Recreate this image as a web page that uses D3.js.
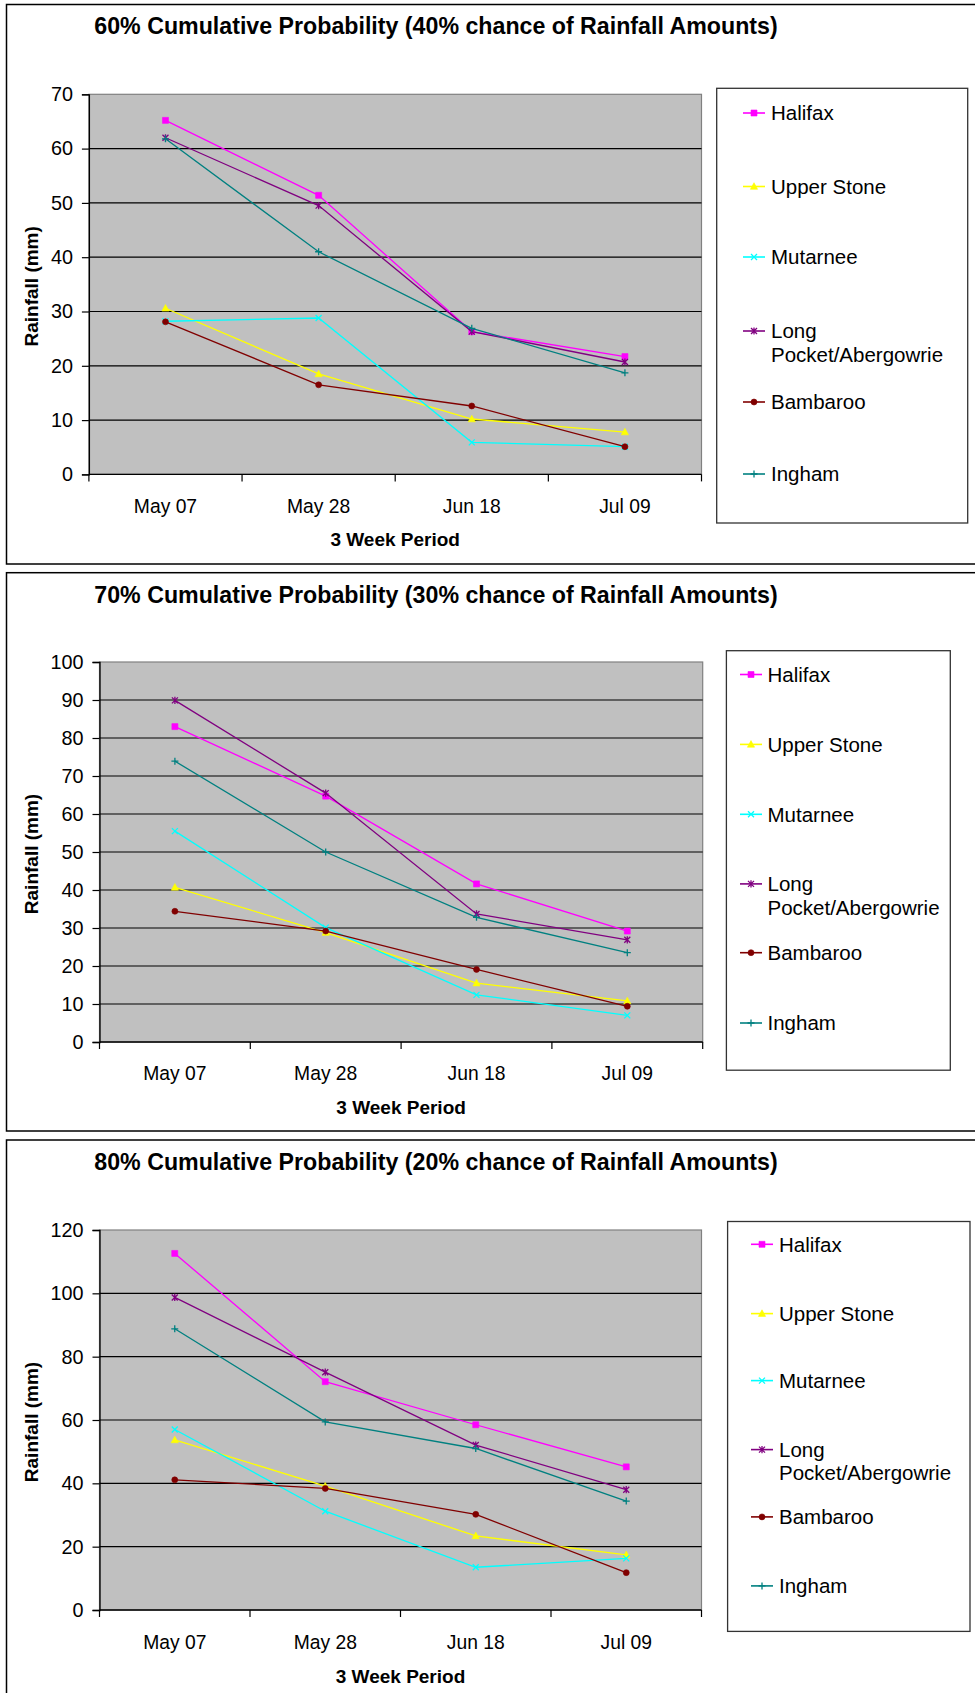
<!DOCTYPE html>
<html>
<head>
<meta charset="utf-8">
<script src="https://cdn.jsdelivr.net/npm/d3@7"></script>
<style>
  html, body { margin: 0; padding: 0; background: #fff; }
  svg { display: block; }
  text { font-family: "Liberation Sans", Arial, Helvetica, sans-serif; fill: #000; }
</style>
</head>
<body>
<svg id="chart" width="975" height="1693"></svg>
<script>
// ---- data ----
const periods = ["May 07", "May 28", "Jun 18", "Jul 09"];
const stations = ["Halifax", "Upper Stone", "Mutarnee", "Long Pocket/Abergowrie", "Bambaroo", "Ingham"];
const legendLabels = [["Halifax"], ["Upper Stone"], ["Mutarnee"], ["Long", "Pocket/Abergowrie"], ["Bambaroo"], ["Ingham"]];

const titles = [
  "60% Cumulative Probability (40% chance of Rainfall Amounts)",
  "70% Cumulative Probability (30% chance of Rainfall Amounts)",
  "80% Cumulative Probability (20% chance of Rainfall Amounts)"
];
const xTitle = "3 Week Period";
const yTitle = "Rainfall (mm)";

// rainfall (mm), rows follow the station order above
const rain60 = [
  [65.2, 51.4, 26.3, 21.7],
  [30.6, 18.5, 10.2, 7.8],
  [28.2, 28.8, 5.9, 5.1],
  [62.0, 49.5, 26.3, 20.7],
  [28.1, 16.5, 12.6, 5.1],
  [61.8, 41.0, 26.9, 18.7]
];
const rain70 = [
  [83.0, 64.7, 41.6, 29.2],
  [40.7, 28.8, 15.5, 10.8],
  [55.5, 30.1, 12.4, 7.0],
  [89.9, 65.5, 33.7, 26.9],
  [34.4, 29.2, 19.1, 9.4],
  [73.9, 50.0, 32.8, 23.5]
];
const rain80 = [
  [112.6, 72.1, 58.5, 45.2],
  [53.7, 39.1, 23.4, 17.4],
  [57.0, 31.2, 13.5, 16.3],
  [98.7, 75.1, 52.1, 38.0],
  [41.1, 38.4, 30.2, 11.8],
  [88.8, 59.4, 51.0, 34.4]
];

const yTicks60 = [0, 10, 20, 30, 40, 50, 60, 70];
const yTicks70 = [0, 10, 20, 30, 40, 50, 60, 70, 80, 90, 100];
const yTicks80 = [0, 20, 40, 60, 80, 100, 120];

// ---- styles ----
const stationColors = ["#FF00FF", "#FFFF00", "#00FFFF", "#800080", "#800000", "#008080"];
const stationMarkers = ["square", "triangle", "times", "star", "circle", "plus"];

const FONT_TICK = 19.3, FONT_YTICK = 19.8, FONT_LEG = 20.5, FONT_AXT = 19, FONT_TITLE = 23.2;

// ---- panel layout ----
const panels = [
  {
    title: titles[0], values: rain60, ticks: yTicks60,
    frame: [4.5, 564], plot: { l: 88.9, r: 701.5, t: 94.3, b: 474.4 },
    titleY: 26, tickY: 506, xTitleY: 539,
    legend: { l: 716.7, r: 967.7, t: 88.3, b: 523, lineL: 743, lineR: 765, textX: 771,
              rows: [113, 186.5, 257, 331, 402, 474] }
  },
  {
    title: titles[1], values: rain70, ticks: yTicks70,
    frame: [572.7, 1131], plot: { l: 99.5, r: 702.7, t: 662, b: 1042 },
    titleY: 594.5, tickY: 1073.4, xTitleY: 1107,
    legend: { l: 726.4, r: 950.3, t: 650.7, b: 1070.2, lineL: 740, lineR: 762, textX: 767.5,
              rows: [674.5, 744.4, 814.3, 883.9, 952.7, 1023] }
  },
  {
    title: titles[2], values: rain80, ticks: yTicks80,
    frame: [1140, 1720], plot: { l: 99.5, r: 701.5, t: 1230, b: 1610 },
    titleY: 1162, tickY: 1642, xTitleY: 1676,
    legend: { l: 727.6, r: 970, t: 1221.5, b: 1631.4, lineL: 751, lineR: 773, textX: 779,
              rows: [1244.3, 1313.6, 1380.6, 1449.6, 1516.9, 1585.9] }
  }
];

// marker outline for each station symbol, centred on 0,0
function markerPath(kind) {
  const p = d3.path();
  switch (kind) {
    case "square": p.rect(-3, -3, 6, 6); break;
    case "triangle": p.moveTo(0, -3.8); p.lineTo(3.6, 2.8); p.lineTo(-3.6, 2.8); p.closePath(); break;
    case "circle": p.arc(0, 0, 3, 0, 2 * Math.PI); break;
    case "times": p.moveTo(-3, -3); p.lineTo(3, 3); p.moveTo(3, -3); p.lineTo(-3, 3); break;
    case "star": p.moveTo(-3, -3); p.lineTo(3, 3); p.moveTo(3, -3); p.lineTo(-3, 3); p.moveTo(0, -3.6); p.lineTo(0, 3.6); break;
    case "plus": p.moveTo(-3.5, 0); p.lineTo(3.5, 0); p.moveTo(0, -3.5); p.lineTo(0, 3.5); break;
  }
  return p.toString();
}
const filledMarkers = new Set(["square", "triangle", "circle"]);

function drawMarker(g, kind, color) {
  g.append("path")
    .attr("d", markerPath(kind))
    .attr("fill", filledMarkers.has(kind) ? color : "none")
    .attr("stroke", color)
    .attr("stroke-width", filledMarkers.has(kind) ? 0.6 : 1.3);
}

const svg = d3.select("#chart");

panels.forEach(panel => {
  const g = svg.append("g");
  const { l, r, t, b } = panel.plot;

  // outer frame of the panel
  g.append("rect")
    .attr("x", 6.5).attr("y", panel.frame[0])
    .attr("width", 990).attr("height", panel.frame[1] - panel.frame[0])
    .attr("fill", "#fff").attr("stroke", "#000").attr("stroke-width", 1.5);

  const x = d3.scaleBand().domain(periods).range([l, r]).paddingInner(0).paddingOuter(0);
  const yMax = panel.ticks[panel.ticks.length - 1];
  const y = d3.scaleLinear().domain([0, yMax]).range([b, t]);

  // plot background
  g.append("rect")
    .attr("x", l).attr("y", t).attr("width", r - l).attr("height", b - t)
    .attr("fill", "#C0C0C0").attr("stroke", "#808080").attr("stroke-width", 1.2);

  // horizontal gridlines
  g.append("g").selectAll("line")
    .data(panel.ticks.filter(v => v > 0 && v < yMax))
    .join("line")
    .attr("x1", l).attr("x2", r)
    .attr("y1", d => y(d)).attr("y2", d => y(d))
    .attr("stroke", "#000").attr("stroke-width", 1.2);

  // y axis
  const yAxis = g.append("g")
    .attr("transform", `translate(${l},0)`)
    .call(d3.axisLeft(y).tickValues(panel.ticks).tickSize(7).tickPadding(9).tickFormat(d3.format("d")));
  yAxis.select(".domain").attr("stroke", "#000").attr("stroke-width", 1.3);
  yAxis.selectAll(".tick line").attr("stroke", "#000").attr("stroke-width", 1.2);
  yAxis.selectAll(".tick text")
    .attr("font-size", FONT_YTICK).attr("fill", "#000")
    .style("font-family", '"Liberation Sans", Arial, sans-serif');

  // x axis: labels centred in bands, ticks on band edges
  const xAxis = g.append("g")
    .attr("transform", `translate(0,${b})`)
    .call(d3.axisBottom(x).tickSize(0).tickPadding(0));
  xAxis.select(".domain").remove();
  xAxis.selectAll(".tick text")
    .attr("font-size", FONT_TICK).attr("fill", "#000")
    .attr("y", panel.tickY - b).attr("dy", "0.36em")
    .style("font-family", '"Liberation Sans", Arial, sans-serif');
  g.append("line")
    .attr("x1", l).attr("x2", r).attr("y1", b).attr("y2", b)
    .attr("stroke", "#000").attr("stroke-width", 1.3);
  const edges = periods.map(p => x(p)).concat([x.range()[1]]);
  g.append("g").selectAll("line")
    .data(edges).join("line")
    .attr("x1", d => d).attr("x2", d => d)
    .attr("y1", b).attr("y2", b + 7)
    .attr("stroke", "#000").attr("stroke-width", 1.2);

  // series lines and markers
  const cx = p => x(p) + x.bandwidth() / 2;
  const line = d3.line().x((d, i) => cx(periods[i])).y(d => y(d));
  stations.forEach((s, si) => {
    const vals = panel.values[si];
    g.append("path")
      .datum(vals)
      .attr("d", line)
      .attr("fill", "none")
      .attr("stroke", stationColors[si])
      .attr("stroke-width", 1.3);
    vals.forEach((v, i) => {
      const mg = g.append("g").attr("transform", `translate(${cx(periods[i])},${y(v)})`);
      drawMarker(mg, stationMarkers[si], stationColors[si]);
    });
  });

  // titles
  g.append("text")
    .attr("x", 436).attr("y", panel.titleY).attr("dy", "0.36em")
    .attr("text-anchor", "middle").attr("font-weight", "bold").attr("font-size", FONT_TITLE)
    .text(panel.title);
  g.append("text")
    .attr("x", (l + r) / 2).attr("y", panel.xTitleY).attr("dy", "0.36em")
    .attr("text-anchor", "middle").attr("font-weight", "bold").attr("font-size", FONT_AXT)
    .text(xTitle);
  g.append("text")
    .attr("transform", `translate(31,${(t + b) / 2 + 2}) rotate(-90)`)
    .attr("dy", "0.36em")
    .attr("text-anchor", "middle").attr("font-weight", "bold").attr("font-size", FONT_AXT)
    .text(yTitle);

  // legend
  const L = panel.legend;
  g.append("rect")
    .attr("x", L.l).attr("y", L.t).attr("width", L.r - L.l).attr("height", L.b - L.t)
    .attr("fill", "#fff").attr("stroke", "#333").attr("stroke-width", 1.3);
  stations.forEach((s, si) => {
    const ry = L.rows[si];
    g.append("line")
      .attr("x1", L.lineL).attr("x2", L.lineR).attr("y1", ry).attr("y2", ry)
      .attr("stroke", stationColors[si]).attr("stroke-width", 1.6);
    const mg = g.append("g").attr("transform", `translate(${(L.lineL + L.lineR) / 2},${ry})`);
    drawMarker(mg, stationMarkers[si], stationColors[si]);
    const txt = g.append("text")
      .attr("x", L.textX).attr("y", ry)
      .attr("font-size", FONT_LEG);
    legendLabels[si].forEach((ln, k) => {
      txt.append("tspan")
        .attr("x", L.textX)
        .attr("dy", k === 0 ? "0.36em" : "1.14em")
        .text(ln);
    });
  });
});
</script>
</body>
</html>
